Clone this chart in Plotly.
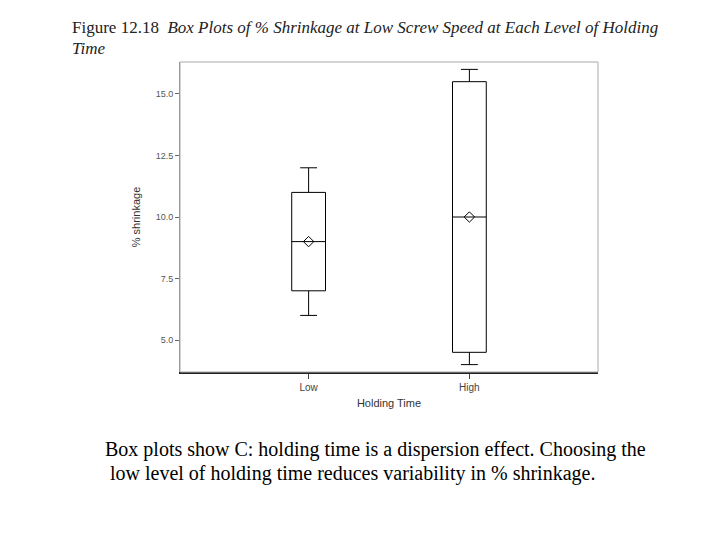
import plotly.graph_objects as go

categories = ["Low", "High"]
q1 = [7.0, 4.5]
median = [9.0, 10.0]
q3 = [11.0, 15.5]
lower_whisker = [6.0, 4.0]
upper_whisker = [12.0, 16.0]
mean = [9.0, 10.0]
y_ticks = [5.0, 7.5, 10.0, 12.5, 15.0]

fig = go.Figure()
fig.add_trace(go.Box(
    x=categories, q1=q1, median=median, q3=q3,
    lowerfence=lower_whisker, upperfence=upper_whisker,
    fillcolor="white", line=dict(color="black", width=1),
    width=0.21, whiskerwidth=0.5, boxpoints=False, showlegend=False,
))
fig.add_trace(go.Scatter(
    x=categories, y=mean, mode="markers",
    marker=dict(symbol="diamond-open", size=8, color="black", line=dict(width=1)),
    showlegend=False,
))

fig.update_layout(
    width=720, height=540,
    margin=dict(l=172, r=130, t=54, b=176),
    paper_bgcolor="white", plot_bgcolor="white",
    font=dict(family="Liberation Sans, Arial", color="#444"),
    shapes=[dict(type="rect", xref="paper", yref="paper", x0=0, y0=0, x1=1, y1=1,
                 line=dict(color="#aaa", width=1))],
)
fig.update_xaxes(
    type="category", range=[-0.8, 1.8], showgrid=False, zeroline=False,
    showline=True, linecolor="#222", linewidth=1.5,
    ticks="outside", ticklen=5, tickcolor="#444",
    tickfont=dict(size=10, color="#444"),
    title=dict(text="Holding Time", font=dict(size=11, color="#333"), standoff=8),
)
fig.update_yaxes(
    range=[3.7, 16.3], tickvals=y_ticks, tickformat=".1f",
    showgrid=False, zeroline=False, showline=True, linecolor="#888", linewidth=1,
    ticks="outside", ticklen=4, tickcolor="#666",
    tickfont=dict(size=9, color="#555"),
    title=dict(text="% shrinkage", font=dict(size=11, color="#333"), standoff=12),
)

serif = "Liberation Serif, Times New Roman"
fig.add_annotation(
    xref="paper", yref="paper", x=-0.263, y=1.11, xanchor="left", yanchor="middle",
    text="Figure 12.18  <i>Box Plots of % Shrinkage at Low Screw Speed at Each Level of Holding</i>",
    showarrow=False, font=dict(family=serif, size=17, color="#222"),
)
fig.add_annotation(
    xref="paper", yref="paper", x=-0.263, y=1.045, xanchor="left", yanchor="middle",
    text="<i>Time</i>",
    showarrow=False, font=dict(family=serif, size=17, color="#222"),
)
fig.add_annotation(
    xref="paper", yref="paper", x=-0.184, y=-0.2516, xanchor="left", yanchor="middle",
    text="Box plots show C: holding time is a dispersion effect. Choosing the",
    showarrow=False, font=dict(family=serif, size=20, color="black"),
)
fig.add_annotation(
    xref="paper", yref="paper", x=-0.172, y=-0.326, xanchor="left", yanchor="middle",
    text="low level of holding time reduces variability in % shrinkage.",
    showarrow=False, font=dict(family=serif, size=20, color="black"),
)

fig.write_html("out.html")
